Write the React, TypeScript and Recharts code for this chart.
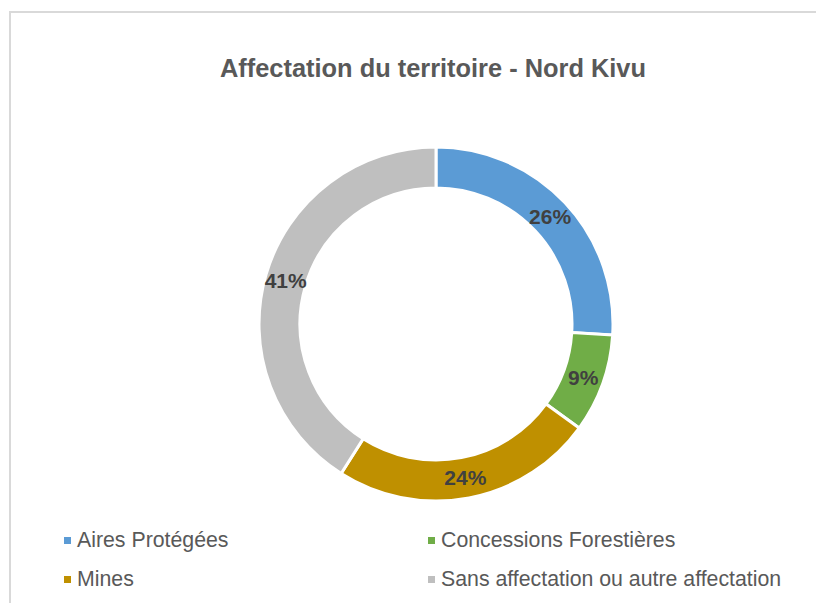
import { PieChart, Pie, Cell } from "recharts";

const categories = [
  "Aires Protégées",
  "Concessions Forestières",
  "Mines",
  "Sans affectation ou autre affectation",
];
const shares = [26, 9, 24, 41];
const colors = ["#5B9BD5", "#70AD47", "#BF9000", "#BFBFBF"];

const data = categories.map((name, i) => ({ name, value: shares[i] }));

const RADIAN = Math.PI / 180;

const renderLabel = (props: any) => {
  const { cx, cy, midAngle, innerRadius, outerRadius, value } = props;
  const r = (innerRadius + outerRadius) / 2;
  const x = cx + r * Math.cos(-midAngle * RADIAN);
  const y = cy + r * Math.sin(-midAngle * RADIAN);
  return (
    <text
      x={x}
      y={y}
      fill="#404040"
      fontSize={21}
      fontWeight="bold"
      fontFamily="Liberation Sans, Arial, sans-serif"
      textAnchor="middle"
      dominantBaseline="central"
    >
      {`${value}%`}
    </text>
  );
};

const legendPos = [
  { left: 64, top: 540 },
  { left: 428, top: 540 },
  { left: 64, top: 579 },
  { left: 428, top: 579 },
];

export default function App() {
  return (
    <div
      style={{
        position: "absolute",
        left: 0,
        top: 0,
        width: 816,
        height: 603,
        background: "#fff",
        overflow: "hidden",
        fontFamily: "Liberation Sans, Arial, sans-serif",
      }}
    >
      <div
        style={{
          position: "absolute",
          left: 9,
          top: 11,
          width: 840,
          height: 640,
          border: "2px solid #d9d9d9",
          boxSizing: "border-box",
        }}
      />
      <div
        style={{
          position: "absolute",
          left: 0,
          top: 54,
          width: 866,
          textAlign: "center",
          fontSize: 25.4,
          lineHeight: "29px",
          fontWeight: "bold",
          color: "#595959",
        }}
      >
        Affectation du territoire - Nord Kivu
      </div>
      <div style={{ position: "absolute", left: 0, top: 0 }}>
        <PieChart width={816} height={603} margin={{ top: 0, right: 0, bottom: 0, left: 0 }}>
          <Pie
            data={data}
            dataKey="value"
            nameKey="name"
            cx={436}
            cy={324}
            innerRadius={136}
            outerRadius={177}
            startAngle={90}
            endAngle={-270}
            stroke="#ffffff"
            strokeWidth={3}
            label={renderLabel}
            labelLine={false}
            isAnimationActive={false}
          >
            {data.map((d, i) => (
              <Cell key={d.name} fill={colors[i]} />
            ))}
          </Pie>
        </PieChart>
      </div>
      {categories.map((name, i) => (
        <div
          key={name}
          style={{
            position: "absolute",
            left: legendPos[i].left,
            top: legendPos[i].top - 12,
            height: 24,
            display: "flex",
            alignItems: "center",
            fontSize: 21.3,
            color: "#595959",
            whiteSpace: "nowrap",
          }}
        >
          <span
            style={{
              display: "inline-block",
              width: 7,
              height: 7,
              background: colors[i],
              marginRight: 6,
            }}
          />
          {name}
        </div>
      ))}
    </div>
  );
}
